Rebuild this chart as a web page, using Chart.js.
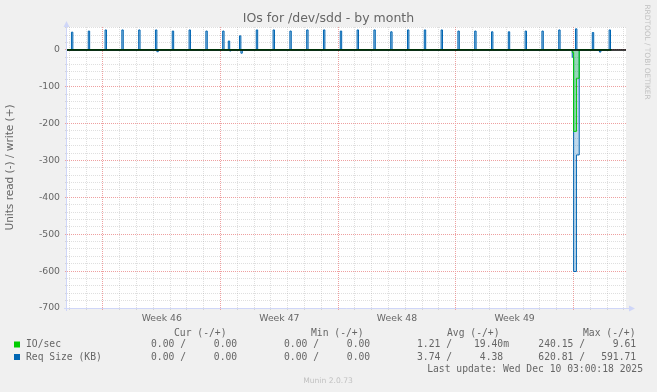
<!DOCTYPE html>
<html>
<head>
<meta charset="utf-8">
<title>IOs for /dev/sdd - by month</title>
<script src="https://cdn.jsdelivr.net/npm/chart.js@4.4.0/dist/chart.umd.min.js"></script>
<style>
    html, body { margin: 0; padding: 0; background: #f0f0f0; }
    #c { display: block; }
</style>
</head>
<body>
<canvas id="c" width="657" height="392"></canvas>
<script>
// x is in days, day 0 = Mon 10 Nov 2025 00:00 (start of week 46)
var SAMPLE = 2 / 24;            // one rrd sample = 2 h
var xFrom = -2.14, xTo = 31.13, dataEnd = 30.25;
var yMin = -700, yMax = 62;

var weekStarts = [0, 7, 14, 21, 28];
var weekCenters = [3.5, 10.5, 17.5, 24.5];
var weekLabels = ['Week 46', 'Week 47', 'Week 48', 'Week 49'];
var yLabels = [0, -100, -200, -300, -400, -500, -600, -700];

// IO/sec read (-) / write (+)
var ioReadT = [27.93, 28.013, 28.097, 28.18, 28.263];
var ioReadV = [-7, -221, -221, -77, -77];
var ioWriteT = [];
var ioWriteV = [];

// Req Size (KB) read (-) / write (+)
var reqReadT = [3.21, 7.54, 8.21, 27.93, 28.013, 28.097, 28.18, 28.263, 29.55];
var reqReadV = [-5, -3, -9, -20, -601, -601, -285, -285, -6];
var reqWriteT = [-1.875, -0.875, 0.125, 1.125, 2.125, 3.125, 4.125, 5.125, 6.125, 7.125, 7.46,
    8.125, 9.125, 10.125, 11.125, 12.125, 13.125, 14.125, 15.125, 16.125, 17.125, 18.125,
    19.125, 20.125, 21.125, 22.125, 23.125, 24.125, 25.125, 26.125, 27.125, 28.125, 29.125, 30.125];
var reqWriteV = [48, 51, 54, 54, 54, 54, 51, 54, 51, 51, 24,
    38, 54, 54, 51, 54, 54, 51, 54, 54, 49, 54,
    54, 54, 51, 51, 49, 49, 51, 51, 54, 57, 47, 54];

// legend table
var seriesNames = ['IO/sec', 'Req Size (KB)'];
var seriesColors = ['#00cc00', '#0066b3'];
var statHeads = ['Cur (-/+)', 'Min (-/+)', 'Avg (-/+)', 'Max (-/+)'];
var ioStats = [['0.00 ', '0.00 '], ['0.00 ', '0.00 '], ['1.21 ', '19.40m'], ['240.15 ', '9.61 ']];
var reqStats = [['0.00 ', '0.00 '], ['0.00 ', '0.00 '], ['3.74 ', '4.38 '], ['620.81 ', '591.71 ']];
var lastUpdate = 'Last update: Wed Dec 10 03:00:18 2025';

var GREY_GRID = 'rgba(150,150,150,0.3)';
var RED_GRID = '#eea0a0';
var AXIS = '#cfd6f8';

// each sample holds its value for one rrd step, zero otherwise
function steps(ts, vs) {
    var pts = [{x: xFrom, y: 0}];
    for (var i = 0; i < ts.length; i++) {
        pts.push({x: ts[i], y: vs[i]});
        var end = ts[i] + SAMPLE;
        if (i === ts.length - 1 || ts[i + 1] > end + 0.001) pts.push({x: end, y: 0});
    }
    pts.push({x: dataEnd, y: 0});
    return pts;
}

function line(label, ts, vs, color, fillColor) {
    return {
        label: label,
        data: steps(ts, vs),
        borderColor: color,
        backgroundColor: fillColor,
        borderWidth: 1,
        stepped: true,
        fill: 'origin',
        pointRadius: 0
    };
}

Chart.defaults.font.family = "'DejaVu Sans', sans-serif";
Chart.defaults.color = '#666';

var muninPlugin = {
    id: 'munin',
    beforeDraw: function (chart) {
        var c = chart.ctx, a = chart.chartArea;
        c.save();
        c.fillStyle = '#f0f0f0';
        c.fillRect(0, 0, chart.width, chart.height);
        c.fillStyle = '#ffffff';
        c.fillRect(a.left, a.top, a.right - a.left, a.bottom - a.top);
        c.restore();
    },
    afterDatasetsDraw: function (chart) {
        var c = chart.ctx, a = chart.chartArea;
        var y0 = Math.round(chart.scales.y.getPixelForValue(0));
        c.save();
        // zero rule
        c.strokeStyle = '#000';
        c.lineWidth = 1.5;
        c.beginPath();
        c.moveTo(a.left, y0);
        c.lineTo(a.right, y0);
        c.stroke();
        // axes + arrows
        c.strokeStyle = AXIS;
        c.fillStyle = AXIS;
        c.lineWidth = 1;
        c.beginPath();
        c.moveTo(a.left - 0.5, a.bottom + 3);
        c.lineTo(a.left - 0.5, a.top);
        c.moveTo(a.left - 3, a.bottom + 0.5);
        c.lineTo(a.right + 3, a.bottom + 0.5);
        c.stroke();
        c.beginPath();
        c.moveTo(a.left - 3.5, a.top);
        c.lineTo(a.left + 2.5, a.top);
        c.lineTo(a.left - 0.5, a.top - 6);
        c.closePath();
        c.fill();
        c.beginPath();
        c.moveTo(a.right + 3, a.bottom - 2.5);
        c.lineTo(a.right + 3, a.bottom + 3.5);
        c.lineTo(a.right + 9, a.bottom + 0.5);
        c.closePath();
        c.fill();
        c.restore();
    },
    afterDraw: function (chart) {
        var c = chart.ctx;
        var readEnd = [186, 319, 452, 585];
        var writeEnd = [243, 376, 509, 642];
        var headLeft = [174, 311, 447, 583];
        var rows = [ioStats, reqStats];
        var rowY = [344.5, 357];
        c.save();
        c.font = '9.7px "DejaVu Sans Mono", monospace';
        c.fillStyle = '#666';
        c.textBaseline = 'middle';
        c.textAlign = 'left';
        statHeads.forEach(function (h, i) { c.fillText(h, headLeft[i], 333); });
        rows.forEach(function (stats, r) {
            c.fillStyle = seriesColors[r];
            c.fillRect(14, rowY[r] - 3, 6, 6);
            c.fillStyle = '#666';
            c.textAlign = 'left';
            c.fillText(seriesNames[r], 26, rowY[r]);
            c.textAlign = 'right';
            stats.forEach(function (s, i) {
                c.fillText(s[0] + '/', readEnd[i], rowY[r]);
                c.fillText(s[1], writeEnd[i], rowY[r]);
            });
        });
        c.textAlign = 'right';
        c.fillText(lastUpdate, 643, 369);
        // footer + watermark
        c.fillStyle = 'rgba(102,102,102,0.35)';
        c.textAlign = 'center';
        c.font = '7.6px "DejaVu Sans", sans-serif';
        c.fillText('Munin 2.0.73', 328, 381);
        c.translate(647, 52);
        c.rotate(Math.PI / 2);
        c.font = '7.4px "DejaVu Sans", sans-serif';
        c.fillText('RRDTOOL / TOBI OETIKER', 0, 0);
        c.restore();
    }
};

var chart = new Chart(document.getElementById('c'), {
    type: 'line',
    data: {
        datasets: [
            line('IO/sec', ioReadT, ioReadV, '#00cc00', 'rgba(0,204,0,0.22)'),
            line('IO/sec', ioWriteT, ioWriteV, '#00cc00', 'rgba(0,204,0,0.22)'),
            line('Req Size (KB)', reqReadT, reqReadV, '#0066b3', 'rgba(0,102,179,0.25)'),
            line('Req Size (KB)', reqWriteT, reqWriteV, '#0066b3', 'rgba(0,102,179,0.35)')
        ]
    },
    options: {
        responsive: false,
        animation: false,
        layout: {padding: 0},
        plugins: {
            legend: {display: false},
            tooltip: {enabled: false},
            title: {
                display: true,
                text: 'IOs for /dev/sdd - by month',
                color: '#666',
                font: {size: 12.5, weight: 'normal'},
                padding: {top: 11, bottom: 1}
            }
        },
        scales: {
            x: {
                type: 'linear',
                min: xFrom,
                max: xTo,
                afterBuildTicks: function (axis) {
                    var ticks = [];
                    for (var d = Math.ceil(xFrom); d <= xTo; d++) ticks.push({value: d});
                    weekCenters.forEach(function (v) { ticks.push({value: v}); });
                    ticks.sort(function (p, q) { return p.value - q.value; });
                    axis.ticks = ticks;
                },
                afterFit: function (axis) {
                    axis.height = 84;
                    axis.paddingLeft = 0;
                    axis.paddingRight = 31;
                },
                grid: {
                    color: function (ctx) {
                        var v = ctx.tick.value;
                        if (weekCenters.indexOf(v) >= 0) return 'rgba(0,0,0,0)';
                        return weekStarts.indexOf(v) >= 0 ? RED_GRID : GREY_GRID;
                    },
                    lineWidth: 1,
                    tickLength: 2
                },
                border: {display: false, dash: [1, 1]},
                ticks: {
                    autoSkip: false,
                    maxRotation: 0,
                    padding: 3,
                    font: {size: 9.3},
                    callback: function (v) {
                        var i = weekCenters.indexOf(v);
                        return i >= 0 ? weekLabels[i] : '';
                    }
                }
            },
            y: {
                min: yMin,
                max: yMax,
                afterBuildTicks: function (axis) {
                    var ticks = [];
                    for (var v = yMin; v < yMax; v += 20) ticks.push({value: v});
                    axis.ticks = ticks;
                },
                afterFit: function (axis) {
                    axis.width = 67;
                    axis.paddingTop = 0;
                    axis.paddingBottom = 0;
                },
                grid: {
                    color: function (ctx) {
                        return ctx.tick.value % 100 === 0 ? RED_GRID : GREY_GRID;
                    },
                    lineWidth: 1,
                    tickLength: 2
                },
                border: {display: false, dash: [1, 1]},
                ticks: {
                    autoSkip: false,
                    padding: 5,
                    font: {size: 9.3},
                    callback: function (v) {
                        return yLabels.indexOf(v) >= 0 ? String(v) : '';
                    }
                },
                title: {
                    display: true,
                    text: 'Units read (-) / write (+)',
                    color: '#666',
                    font: {size: 10.5},
                    padding: {top: 4, bottom: 0}
                }
            }
        }
    },
    plugins: [muninPlugin]
});
</script>
</body>
</html>
